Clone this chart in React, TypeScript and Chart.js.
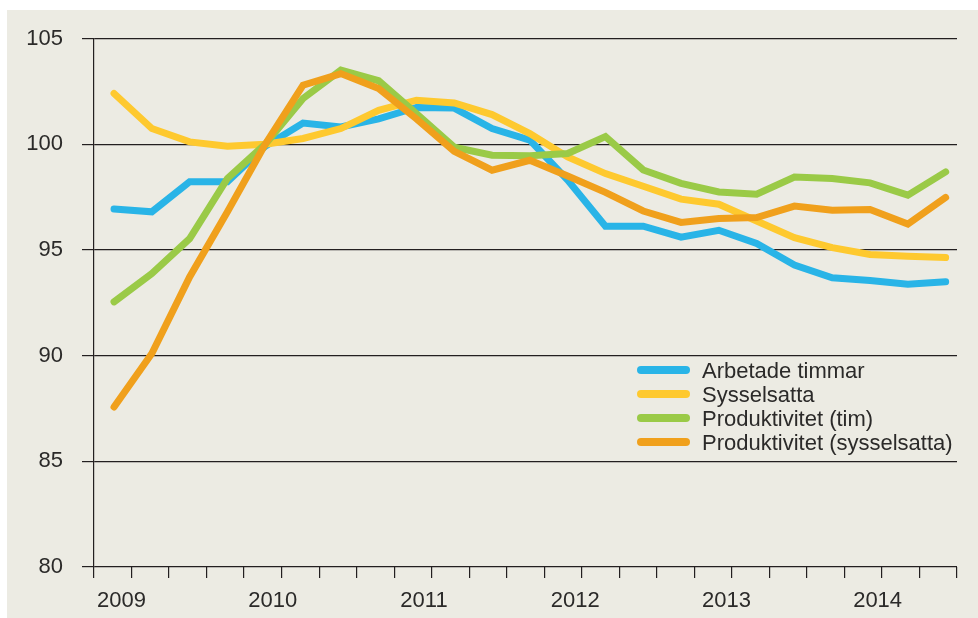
import { useEffect, useRef } from 'react';
import { Chart, registerables } from 'chart.js';

Chart.register(...registerables);

const quarters = [
  '2009K1', '2009K2', '2009K3', '2009K4',
  '2010K1', '2010K2', '2010K3', '2010K4',
  '2011K1', '2011K2', '2011K3', '2011K4',
  '2012K1', '2012K2', '2012K3', '2012K4',
  '2013K1', '2013K2', '2013K3', '2013K4',
  '2014K1', '2014K2', '2014K3',
];
const yearLabels = ['2009', '2010', '2011', '2012', '2013', '2014'];
const yTicks = [80, 85, 90, 95, 100, 105];

const arbetadeTimmar = [96.93, 96.8, 98.22, 98.22, 99.9, 101.0, 100.82, 101.2, 101.74, 101.71, 100.74, 100.19, 98.3, 96.12, 96.12, 95.6, 95.93, 95.3, 94.28, 93.68, 93.55, 93.38, 93.49];
const sysselsatta = [102.4, 100.74, 100.11, 99.9, 100.0, 100.27, 100.74, 101.6, 102.08, 101.95, 101.4, 100.5, 99.4, 98.61, 98.01, 97.4, 97.16, 96.37, 95.58, 95.11, 94.78, 94.7, 94.64];
const produktivitetTim = [92.54, 93.88, 95.53, 98.38, 100.0, 102.16, 103.5, 103.0, 101.45, 99.86, 99.48, 99.45, 99.56, 100.36, 98.78, 98.15, 97.74, 97.63, 98.45, 98.38, 98.17, 97.59, 98.69];
const produktivitetSyss = [87.57, 90.1, 93.72, 96.8, 100.0, 102.79, 103.34, 102.63, 101.2, 99.66, 98.77, 99.24, 98.5, 97.72, 96.84, 96.3, 96.48, 96.53, 97.07, 96.88, 96.91, 96.22, 97.48];

const seriesNames = ['Arbetade timmar', 'Sysselsatta', 'Produktivitet (tim)', 'Produktivitet (sysselsatta)'];
const seriesColors = ['#29b4e7', '#fec92f', '#9aca47', '#f0a01c'];

const FONT = '"Liberation Sans", Arial, sans-serif';
const TEXT = '#2b2a29';
const GRID = '#231f20';
const BG = '#ecebe3';

export default function App() {
  const ref = useRef<HTMLCanvasElement | null>(null);

  useEffect(() => {
    if (!ref.current) return;
    const xMin = -0.53;
    const xMax = 22.3;
    const toPts = (arr: number[]) => arr.map((v, i) => ({ x: i, y: v }));
    const all = [arbetadeTimmar, sysselsatta, produktivitetTim, produktivitetSyss];

    const legendPlugin = {
      id: 'insideLegend',
      afterDraw(chart: any) {
        const ctx = chart.ctx;
        ctx.save();
        chart.data.datasets.forEach((ds: any, k: number) => {
          const y = 360 + 24 * k;
          ctx.strokeStyle = ds.borderColor;
          ctx.lineWidth = 8;
          ctx.lineCap = 'round';
          ctx.beginPath();
          ctx.moveTo(634, y);
          ctx.lineTo(679, y);
          ctx.stroke();
          ctx.fillStyle = TEXT;
          ctx.font = `22px ${FONT}`;
          ctx.textBaseline = 'alphabetic';
          ctx.textAlign = 'left';
          ctx.fillText(ds.label, 695, y + 7.5);
        });
        ctx.restore();
      },
    };

    const chart = new Chart(ref.current, {
      type: 'line',
      data: {
        labels: quarters,
        datasets: all.map((arr, k) => ({
          label: seriesNames[k],
          data: toPts(arr),
          borderColor: seriesColors[k],
          backgroundColor: seriesColors[k],
          borderWidth: 7,
          borderCapStyle: 'round',
          borderJoinStyle: 'miter',
          pointRadius: 0,
          tension: 0,
          fill: false,
          order: 4 - k,
        })),
      },
      options: {
        animation: false,
        responsive: false,
        devicePixelRatio: 1,
        events: [],
        layout: { padding: { top: 28.5, right: 21, left: 0, bottom: 0 } },
        plugins: {
          legend: { display: false },
          tooltip: { enabled: false },
          title: { display: false },
        },
        scales: {
          x: {
            type: 'linear',
            position: 'bottom',
            weight: 0,
            min: xMin,
            max: xMax,
            afterBuildTicks: (scale: any) => {
              const n = quarters.length + 1;
              scale.ticks = Array.from({ length: n }, (_, k) => ({ value: xMin + (k * (xMax - xMin)) / (n - 1) }));
            },
            afterFit: (scale: any) => { scale.height = 11; },
            grid: {
              display: true,
              drawOnChartArea: false,
              drawTicks: true,
              tickLength: 11,
              color: GRID,
              lineWidth: 1.2,
            },
            border: { display: false },
            ticks: { display: false, autoSkip: false },
          },
          x2: {
            type: 'linear',
            position: 'bottom',
            weight: 1,
            min: xMin,
            max: xMax,
            afterBuildTicks: (scale: any) => {
              scale.ticks = yearLabels.map((_, j) => ({ value: 4 * j + 0.2 }));
            },
            afterFit: (scale: any) => { scale.height = 40; },
            grid: { display: false, drawTicks: false },
            border: { display: false },
            ticks: {
              autoSkip: false,
              maxRotation: 0,
              padding: 10,
              color: TEXT,
              font: { family: FONT, size: 22 },
              callback: (_v: any, i: number) => yearLabels[i],
            },
          },
          y: {
            type: 'linear',
            min: 80,
            max: 105,
            afterBuildTicks: (scale: any) => {
              scale.ticks = yTicks.map((v) => ({ value: v }));
            },
            afterFit: (scale: any) => {
              scale.width = 87;
              scale.paddingTop = 0;
              scale.paddingBottom = 0;
            },
            grid: {
              color: GRID,
              lineWidth: 1.2,
              drawTicks: true,
              tickLength: 12,
            },
            border: { display: true, color: GRID, width: 1.2 },
            ticks: {
              padding: 19,
              color: TEXT,
              font: { family: FONT, size: 22 },
              callback: (v: any) => String(v),
            },
          },
        },
      },
      plugins: [legendPlugin],
    } as any);

    return () => chart.destroy();
  }, []);

  return (
    <div style={{ position: 'fixed', left: 7, top: 10, width: 971, height: 608, background: BG }}>
      <canvas ref={ref} width={971} height={608} style={{ display: 'block', width: 971, height: 608 }} />
    </div>
  );
}
